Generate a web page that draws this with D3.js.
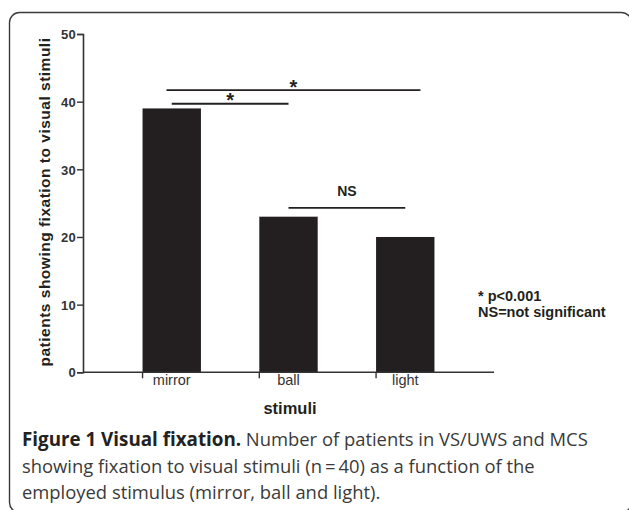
<!DOCTYPE html>
<html>
<head>
<meta charset="utf-8">
<script src="https://cdn.jsdelivr.net/npm/d3@7"></script>
<style>
  body { margin: 0; background: #fff; }
  svg { display: block; }
</style>
</head>
<body>
<svg id="chart" width="629" height="510"></svg>
<script>
// data
const stimuli = ["mirror", "ball", "light"];
const patients = [39, 23, 20];
const yTicks = [0, 10, 20, 30, 40, 50];
const comparisons = [
  { from: "mirror", to: "light", level: 41.7, label: "*" },
  { from: "mirror", to: "ball", level: 39.7, label: "*" },
  { from: "ball", to: "light", level: 24.3, label: "NS" }
];
const legendLines = ["* p<0.001", "NS=not significant"];
const captionBold = "Figure 1 Visual fixation.";
const captionLines = [
  " Number of patients in VS/UWS and MCS",
  "showing fixation to visual stimuli (n\u2009=\u200940) as a function of the",
  "employed stimulus (mirror, ball and light)."
];

const svg = d3.select("#chart");
const ink = "#231f20";
const chartFont = "'Liberation Sans', Arial, sans-serif";

// rounded frame
svg.append("rect")
  .attr("x", 9.5)
  .attr("y", 12.5)
  .attr("width", 622)
  .attr("height", 500)
  .attr("rx", 10)
  .attr("fill", "none")
  .attr("stroke", "#3a3a3a")
  .attr("stroke-width", 1.4);

const x = d3.scaleBand()
  .domain(stimuli)
  .range([83, 494])
  .paddingInner(0.5)
  .paddingOuter(0.51);

const y = d3.scaleLinear()
  .domain([0, 50])
  .range([372.3, 34]);

const g = svg.append("g");

// bars
g.selectAll("rect.bar")
  .data(stimuli)
  .enter()
  .append("rect")
  .attr("class", "bar")
  .attr("x", (d) => x(d))
  .attr("y", (d, i) => y(patients[i]))
  .attr("width", x.bandwidth())
  .attr("height", (d, i) => y(0) - y(patients[i]))
  .attr("fill", ink);

// y axis
const yAxis = g.append("g")
  .attr("transform", "translate(83,0)")
  .call(d3.axisLeft(y).tickValues(yTicks).tickSize(6).tickPadding(1));
yAxis.select(".domain").attr("stroke", "#333").attr("stroke-width", 1.6);
yAxis.selectAll(".tick line").attr("stroke", "#333").attr("stroke-width", 1.4);
yAxis.selectAll(".tick text")
  .attr("fill", "#333")
  .attr("dy", "0.36em")
  .style("font-family", chartFont)
  .style("font-weight", "bold")
  .style("font-size", "13px")
  .style("letter-spacing", "0.3px");

// x axis: ticks sit at left edge of each bar
const xAxis = g.append("g");
xAxis.append("line")
  .attr("x1", 83)
  .attr("x2", 494)
  .attr("y1", y(0))
  .attr("y2", y(0))
  .attr("stroke", "#333")
  .attr("stroke-width", 1.6);
xAxis.selectAll("line.tick")
  .data(stimuli)
  .enter()
  .append("line")
  .attr("class", "tick")
  .attr("x1", (d) => x(d))
  .attr("x2", (d) => x(d))
  .attr("y1", y(0))
  .attr("y2", y(0) + 6)
  .attr("stroke", "#333")
  .attr("stroke-width", 1.4);
xAxis.selectAll("text")
  .data(stimuli)
  .enter()
  .append("text")
  .attr("x", (d) => x(d) + x.bandwidth() / 2)
  .attr("y", y(0) + 13)
  .attr("text-anchor", "middle")
  .attr("fill", "#333")
  .style("font-family", chartFont)
  .style("font-size", "14.5px")
  .text((d) => d);

// axis titles
svg.append("text")
  .attr("x", 290)
  .attr("y", 414)
  .attr("text-anchor", "middle")
  .attr("fill", ink)
  .style("font-family", chartFont)
  .style("font-weight", "bold")
  .style("font-size", "16.5px")
  .text("stimuli");

svg.append("text")
  .attr("transform", "translate(50,202) rotate(-90)")
  .attr("text-anchor", "middle")
  .attr("fill", ink)
  .style("font-family", chartFont)
  .style("font-weight", "bold")
  .style("font-size", "15.5px")
  .style("letter-spacing", "0.5px")
  .text("patients showing fixation to visual stimuli");

// significance brackets (fraction of band where each line starts / ends, label shift)
const spans = [[0.41, 0.76, 4], [0.5, 0.5, 3], [0.5, 0.5, -11.5]];
const sig = g.selectAll("g.sig")
  .data(comparisons)
  .enter()
  .append("g")
  .attr("class", "sig");
sig.append("line")
  .attr("x1", (d, i) => x(d.from) + x.bandwidth() * spans[i][0])
  .attr("x2", (d, i) => x(d.to) + x.bandwidth() * spans[i][1])
  .attr("y1", (d) => y(d.level))
  .attr("y2", (d) => y(d.level))
  .attr("stroke", ink)
  .attr("stroke-width", 1.9);
sig.append("text")
  .attr("x", (d, i) => (x(d.from) + x.bandwidth() * spans[i][0] + x(d.to) + x.bandwidth() * spans[i][1]) / 2)
  .attr("y", (d, i) => y(d.level) + spans[i][2])
  .attr("text-anchor", "middle")
  .attr("fill", ink)
  .style("font-family", chartFont)
  .style("font-weight", "bold")
  .style("font-size", (d) => d.label === "NS" ? "14px" : "20px")
  .text((d) => d.label);

// legend note
svg.selectAll("text.note")
  .data(legendLines)
  .enter()
  .append("text")
  .attr("class", "note")
  .attr("x", 478)
  .attr("y", (d, i) => 301 + i * 15.5)
  .attr("fill", ink)
  .style("font-family", chartFont)
  .style("font-weight", "bold")
  .style("font-size", "14.5px")
  .text((d) => d);

// caption
const cap = svg.append("g")
  .style("font-family", "'Open Sans', 'Noto Sans', sans-serif")
  .style("font-size", "18.4px")
  .attr("fill", "#3a3a3a");
captionLines.forEach((line, i) => {
  const t = cap.append("text")
    .attr("x", 22)
    .attr("y", 446 + i * 26.5);
  if (i === 0) {
    t.append("tspan")
      .style("font-weight", "bold")
      .style("font-size", "18.8px")
      .attr("fill", "#222")
      .text(captionBold);
  }
  t.append("tspan").text(line);
});
</script>
</body>
</html>
